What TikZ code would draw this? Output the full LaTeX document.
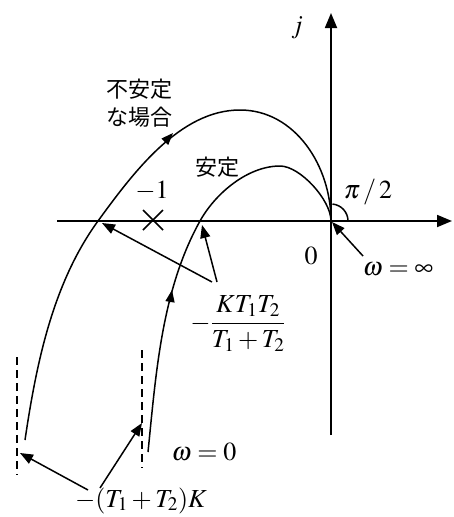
\documentclass[tikz,border=0pt]{standalone}
\usepackage{mathptmx}
\usepackage[no-math]{fontspec}
\newfontfamily\jp{Noto Sans CJK JP}
\usetikzlibrary{arrows.meta}
\begin{document}
\begin{tikzpicture}[x=1pt,y=-1pt,
  axisline/.style={line width=1.8pt,-{Triangle[length=15pt,width=12pt]}},
  curveline/.style={line width=1.5pt},
  lab/.style={font=\fontsize{26}{30}\selectfont, inner sep=0pt},
  jlab/.style={font=\jp\fontsize{22}{26}\selectfont, inner sep=0pt},
  ptr/.style={line width=1.5pt,-{Triangle[length=13pt,width=10pt]}},
  cptr/.style={line width=1.5pt,-{Triangle[length=12pt,width=9pt]}},
  dline/.style={line width=2.6pt,dash pattern=on 8pt off 5pt}]
\useasboundingbox (0,0) rectangle (453,517);
% axes
\coordinate (O) at (331,221);
\coordinate (xl) at (57,221);
\coordinate (xr) at (452,221);
\coordinate (yb) at (331,435);
\coordinate (yt) at (331,13);
\draw[axisline] (xl) -- (xr);
\draw[axisline] (yb) -- (yt);
% curves
\draw[curveline] (25,440) .. controls (36.3,363.8) and (52.6,283.4) .. (98,221)
  .. controls (133.4,172.4) and (180,110) .. (240,110)
  .. controls (295,110) and (331,166) .. (O);
\draw[curveline] (148,452) .. controls (156,373.4) and (161.6,290) .. (200,221)
  .. controls (215.6,193) and (248,166) .. (280,166)
  .. controls (300,166) and (331,200) .. (O);
% arrows on curves
\coordinate (c1s) at (164.8,141.8);
\coordinate (c1t) at (173,133);
\coordinate (c2s) at (170,302);
\coordinate (c2t) at (172,290);
\draw[cptr] (c1s) -- (c1t);
\draw[cptr] (c2s) -- (c2t);
% cross at -1
\draw[line width=1.5pt] (143,210) -- (163,230) (143,230) -- (163,210);
% angle arc
\draw[line width=1.5pt] (348,221) arc[start angle=0,end angle=-85,radius=17];
% dashed lines
\draw[dline] (17,357) -- (17,475);
\draw[dline] (142,350) -- (142,468);
% labels
\node[lab,anchor=base] (jl) at (297,33) {$j$};
\node[lab,anchor=base] (m1) at (152,198) {$-1$};
\node[lab,anchor=base] (pi2) at (368,198) {$\pi\,/\,2$};
\node[lab,anchor=base] (zero) at (311,264) {$0$};
\node[lab,anchor=base] (winf) at (398,275) {$\omega=\infty$};
\node[lab,anchor=base] (wzero) at (204,460) {$\omega=0$};
\node[lab,anchor=base] (frac) at (238,330) {$\displaystyle -\frac{KT_1T_2}{T_1+T_2}$};
\node[lab,anchor=base] (tk) at (141,507) {$-(T_1+T_2)K$};
\node[jlab] (u1) at (139,89) {不安定};
\node[jlab] (u2) at (139,117) {な場合};
\node[jlab] (st) at (217,167) {安定};
% pointer arrows
\coordinate (p1) at (363,256);
\coordinate (O2) at (332,222);
\draw[ptr] (p1) -- (O2);
\coordinate (f1) at (212,282);
\coordinate (f2) at (217,282);
\coordinate (x1) at (102,223);
\coordinate (x2) at (202,225);
\draw[ptr] (f1) -- (x1);
\draw[ptr] (f2) -- (x2);
\coordinate (b1) at (88,490);
\coordinate (b2) at (100,488);
\coordinate (d1) at (20,453);
\coordinate (d2) at (142,423);
\draw[ptr] (b1) -- (d1);
\draw[ptr] (b2) -- (d2);
\end{tikzpicture}
\end{document}
